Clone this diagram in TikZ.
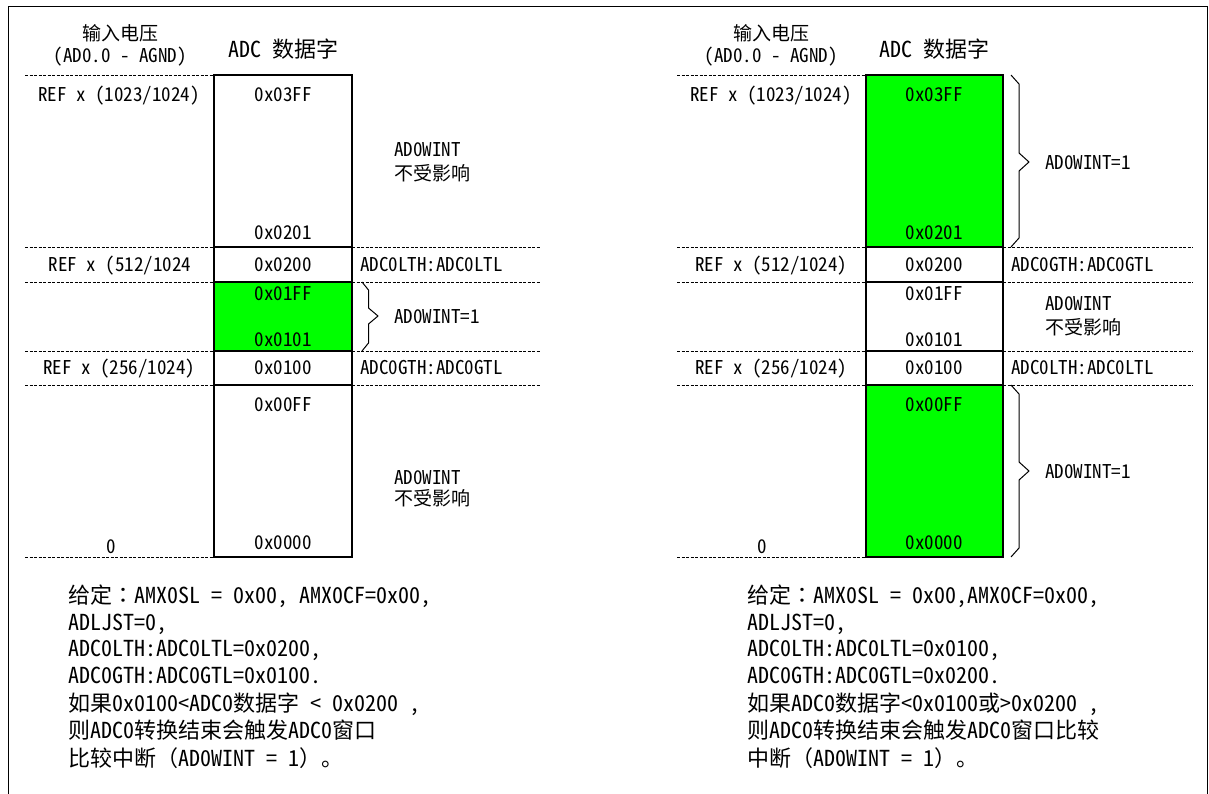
\documentclass[tikz,border=0pt]{standalone}
\usepackage{fontspec}
\setmainfont[RawFeature=+hwid]{Noto Sans CJK SC}
\newfontfamily\fwsc{Noto Sans CJK SC}
\newfontfamily\fwtc{Noto Sans CJK TC}
\definecolor{brightgreen}{RGB}{0,255,0}
\begin{document}
\begin{tikzpicture}[x=1pt,y=-1pt,
  lab/.style={font=\fontsize{19}{22}\selectfont, inner sep=0pt, text height=15pt, text depth=1pt},
  big/.style={font=\fontsize{22}{26}\selectfont, inner sep=0pt, text height=17.5pt, text depth=1.5pt},
  dline/.style={line width=0.9pt, dash pattern=on 3pt off 1.5pt},
  boxline/.style={line width=1.3pt},
  bracel/.style={line width=1pt, line join=round},
  greenfill/.style={fill=brightgreen}]
\useasboundingbox (0,0) rectangle (1209,793);
\clip (0,0) rectangle (1209,793);
% frame
\draw[line width=1pt] (8,800) -- (8,6.5) -- (1207.5,6.5) -- (1207.5,800);

% ================= LEFT PANEL =================
\fill[greenfill] (214,282) rectangle (352,351);
\foreach \yy in {75,247,282,351,385,557} \draw[dline] (25,\yy) -- (214,\yy);
\foreach \yy in {247,282,351,385} \draw[dline] (352,\yy) -- (541,\yy);
\draw[boxline] (214,75) rectangle (352,557);
\foreach \yy in {247,282,351,385} \draw[boxline] (214,\yy) -- (352,\yy);
\draw[bracel] (362,282) -- (368.5,290) -- (368.5,308) -- (378,316) -- (368.5,324) -- (368.5,343) -- (362,351);

\node[lab] (lh1) at (120,33) {输入电压};
\node[lab] (lh2) at (120,55) {(AD0.0 - AGND)};
\node[big] (lh3) at (283,49) {ADC 数据字};
\node[lab] (lr1) at (119,94) {REF x (1023/1024)};
\node[lab] (lc1) at (283,94) {0x03FF};
\node[lab, anchor=west] (lw1) at (394,149) {AD0WINT};
\node[lab, anchor=west] (lw1b) at (394,173) {不受影响};
\node[lab] (lc2) at (283,232) {0x0201};
\node[lab] (lr2) at (120,264) {REF x (512/1024};
\node[lab] (lc3) at (283,264) {0x0200};
\node[lab, anchor=west] (lt1) at (360,264) {ADC0LTH:ADC0LTL};
\node[lab] (lc4) at (283,293) {0x01FF};
\node[lab] (lc5) at (283,339) {0x0101};
\node[lab, anchor=west] (lw2) at (394,316) {AD0WINT=1};
\node[lab] (lr3) at (119,367) {REF x (256/1024)};
\node[lab] (lc6) at (283,367) {0x0100};
\node[lab, anchor=west] (lt2) at (360,367) {ADC0GTH:ADC0GTL};
\node[lab] (lc7) at (283,404) {0x00FF};
\node[lab, anchor=west] (lw3) at (394,477) {AD0WINT};
\node[lab, anchor=west] (lw3b) at (394,498) {不受影响};
\node[lab] (lr4) at (111,546) {0};
\node[lab] (lc8) at (283,542) {0x0000};

\node[big, anchor=west] (lb1) at (68,595) {给定{\fwtc ：}AMX0SL = 0x00, AMX0CF=0x00,};
\node[big, anchor=west] (lb2) at (68,622) {ADLJST=0,};
\node[big, anchor=west] (lb3) at (68,648) {ADC0LTH:ADC0LTL=0x0200,};
\node[big, anchor=west] (lb4) at (68,675) {ADC0GTH:ADC0GTL=0x0100.};
\node[big, anchor=west] (lb5) at (68,703) {如果0x0100<ADC0数据字 < 0x0200 ,};
\node[big, anchor=west] (lb6) at (68,730) {则ADC0转换结束会触发ADC0窗口};
\node[big, anchor=west] (lb7) at (68,758) {比较中断{\fwsc （}AD0WINT = 1{\fwsc ）。}};

% ================= RIGHT PANEL =================
\fill[greenfill] (866,75) rectangle (1003,247);
\fill[greenfill] (866,385) rectangle (1003,557);
\foreach \yy in {75,247,282,351,385,557} \draw[dline] (677,\yy) -- (866,\yy);
\foreach \yy in {247,282,351,385} \draw[dline] (1003,\yy) -- (1193,\yy);
\draw[boxline] (866,75) rectangle (1003,557);
\foreach \yy in {247,282,351,385} \draw[boxline] (866,\yy) -- (1003,\yy);
\draw[bracel] (1011,75) -- (1019,84) -- (1019,153) -- (1029,162) -- (1019,171) -- (1019,238) -- (1011,247);
\draw[bracel] (1011,385) -- (1019,394) -- (1019,462) -- (1029,471) -- (1019,480) -- (1019,548) -- (1011,557);

\node[lab] (rh1) at (771,33) {输入电压};
\node[lab] (rh2) at (771,55) {(AD0.0 - AGND)};
\node[big] (rh3) at (934,49) {ADC 数据字};
\node[lab] (rr1) at (771,94) {REF x (1023/1024)};
\node[lab] (rc1) at (934,94) {0x03FF};
\node[lab, anchor=west] (rw1) at (1045,162) {AD0WINT=1};
\node[lab] (rc2) at (934,232) {0x0201};
\node[lab] (rr2) at (771,264) {REF x (512/1024)};
\node[lab] (rc3) at (934,264) {0x0200};
\node[lab, anchor=west] (rt1) at (1011,264) {ADC0GTH:ADC0GTL};
\node[lab] (rc4) at (934,293) {0x01FF};
\node[lab, anchor=west] (rw2) at (1045,303) {AD0WINT};
\node[lab, anchor=west] (rw2b) at (1045,327) {不受影响};
\node[lab] (rc5) at (934,339) {0x0101};
\node[lab] (rr3) at (771,367) {REF x (256/1024)};
\node[lab] (rc6) at (934,367) {0x0100};
\node[lab, anchor=west] (rt2) at (1011,367) {ADC0LTH:ADC0LTL};
\node[lab] (rc7) at (934,404) {0x00FF};
\node[lab, anchor=west] (rw3) at (1045,471) {AD0WINT=1};
\node[lab] (rr4) at (762,546) {0};
\node[lab] (rc8) at (934,542) {0x0000};

\node[big, anchor=west] (rb1) at (747,595) {给定{\fwtc ：}AMX0SL = 0x00,AMX0CF=0x00,};
\node[big, anchor=west] (rb2) at (747,622) {ADLJST=0,};
\node[big, anchor=west] (rb3) at (747,648) {ADC0LTH:ADC0LTL=0x0100,};
\node[big, anchor=west] (rb4) at (747,675) {ADC0GTH:ADC0GTL=0x0200.};
\node[big, anchor=west] (rb5) at (747,703) {如果ADC0数据字<0x0100或>0x0200 ,};
\node[big, anchor=west] (rb6) at (747,730) {则ADC0转换结束会触发ADC0窗口比较};
\node[big, anchor=west] (rb7) at (747,758) {中断{\fwsc （}AD0WINT = 1{\fwsc ）。}};
\end{tikzpicture}
\end{document}
